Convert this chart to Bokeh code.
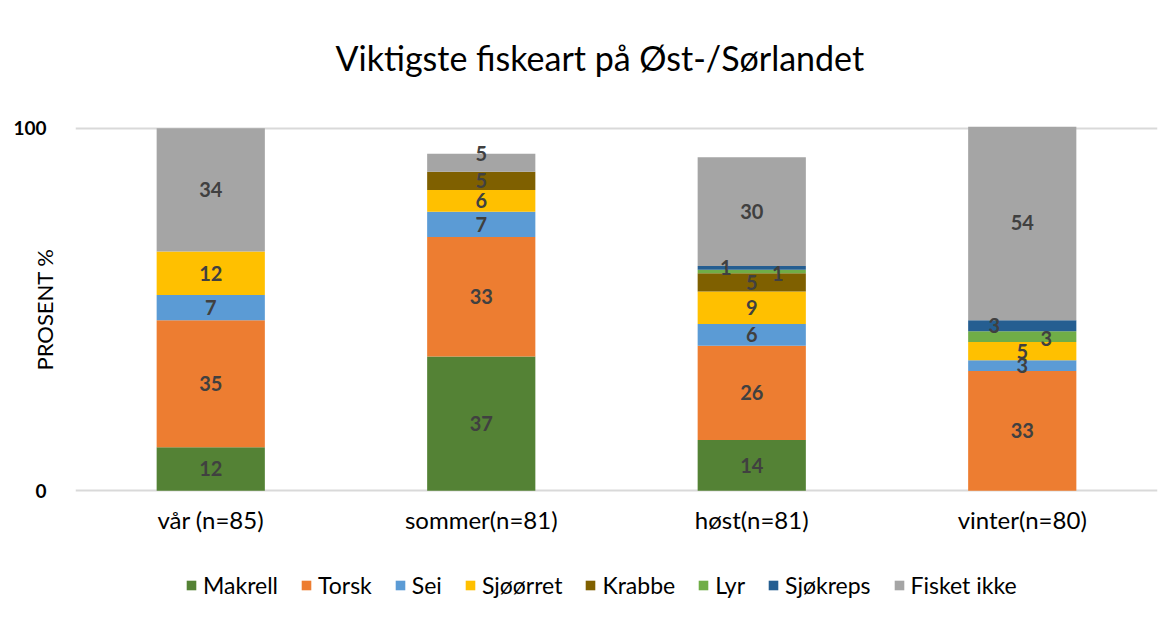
from bokeh.plotting import figure
from bokeh.models import ColumnDataSource, FactorRange, Range1d, Legend, LegendItem, FixedTicker
from bokeh.layouts import column
from bokeh.core.properties import value
from bokeh.embed import file_html
from bokeh.resources import INLINE

# ---- data ----
categories = ["vår (n=85)", "sommer(n=81)", "høst(n=81)", "vinter(n=80)"]
species = ["Makrell", "Torsk", "Sei", "Sjøørret", "Krabbe", "Lyr", "Sjøkreps", "Fisket ikke"]
makrell = [12, 37, 14, 0]
torsk = [35, 33, 26, 33]
sei = [7, 7, 6, 3]
sjoorret = [12, 6, 9, 5]
krabbe = [0, 5, 5, 0]
lyr = [0, 0, 1, 3]
sjokreps = [0, 0, 1, 3]
fisket_ikke = [34, 5, 30, 54]
y_ticks = [0, 100]
title_text = "Viktigste fiskeart på Øst-/Sørlandet"

colors = ["#548235", "#ED7D31", "#5B9BD5", "#FFC000", "#7F6000", "#70AD47", "#255E91", "#A5A5A5"]
series = [makrell, torsk, sei, sjoorret, krabbe, lyr, sjokreps, fisket_ikke]

FONT = "Lato"
W = 1165

label_offsets = {
    ("høst(n=81)", "Sjøkreps"): (-26, 0),
    ("høst(n=81)", "Lyr"): (26, 2),
    ("vinter(n=80)", "Sjøkreps"): (-28, 0),
    ("vinter(n=80)", "Lyr"): (24, 2),
    ("sommer(n=81)", "Fisket ikke"): (0, -9),
}

# ---- title strip ----
pt = figure(width=W, height=84, x_range=Range1d(0, 1), y_range=Range1d(0, 1),
            x_axis_type=None, y_axis_type=None, output_backend="svg", toolbar_location=None,
            min_border_top=82, min_border_bottom=0, min_border_left=75, min_border_right=8)
pt.outline_line_color = None
pt.grid.visible = False
pt.title.text = title_text
pt.title.align = "left"
pt.title.offset = 260
pt.title.text_font = FONT
pt.title.text_font_size = "34px"
pt.title.text_font_style = "normal"
pt.title.text_color = "#000000"
pt.title.standoff = 10

# ---- main chart ----
data = {"cat": categories}
for name, vals in zip(species, series):
    data[name] = vals
source = ColumnDataSource(data)

p = figure(
    x_range=FactorRange(*categories, range_padding=0),
    y_range=Range1d(-0.5, 100.5),
    width=W, height=466,
    output_backend="svg", toolbar_location=None,
    min_border_left=75, min_border_right=8, min_border_top=42, min_border_bottom=58,
)

renderers = p.vbar_stack(species, x="cat", width=0.4, color=colors, line_color=None, source=source)

lx, ly, lt, lxo, lyo = [], [], [], [], []
for i, cat in enumerate(categories):
    base = 0
    for name, vals in zip(species, series):
        v = vals[i]
        if v > 0:
            xo, yo = label_offsets.get((cat, name), (0, 0))
            lx.append(cat)
            ly.append(base + v / 2)
            lt.append(str(v))
            lxo.append(xo)
            lyo.append(yo)
        base += v
lsrc = ColumnDataSource(dict(x=lx, y=ly, t=lt, xo=lxo, yo=lyo))
p.text(x="x", y="y", text="t", x_offset="xo", y_offset="yo", source=lsrc,
       text_align="center", text_baseline="middle", text_font=value(FONT),
       text_font_style="bold", text_font_size="20px", text_color="#404040")

p.outline_line_color = None
p.xgrid.grid_line_color = None
p.ygrid.ticker = FixedTicker(ticks=y_ticks)
p.ygrid.grid_line_color = "#d9d9d9"
p.ygrid.grid_line_width = 2
p.yaxis.ticker = FixedTicker(ticks=y_ticks)
p.yaxis.axis_line_color = None
p.yaxis.major_tick_line_color = None
p.yaxis.minor_tick_line_color = None
p.yaxis.major_label_text_font = FONT
p.yaxis.major_label_text_font_style = "bold"
p.yaxis.major_label_text_font_size = "19px"
p.yaxis.major_label_text_color = "#000000"
p.yaxis.major_label_standoff = 23
p.yaxis.axis_label = "PROSENT %"
p.yaxis.axis_label_text_font = FONT
p.yaxis.axis_label_text_font_style = "normal"
p.yaxis.axis_label_text_font_size = "22px"
p.yaxis.axis_label_text_color = "#000000"
p.yaxis.axis_label_standoff = -48

p.xaxis.axis_line_color = None
p.xaxis.major_tick_line_color = None
p.xaxis.minor_tick_line_color = None
p.xaxis.major_label_text_font = FONT
p.xaxis.major_label_text_font_size = "24px"
p.xaxis.major_label_text_color = "#000000"
p.xaxis.major_label_standoff = 6

# ---- legend strip (zero-height swatch renderers) ----
pl = figure(width=W, height=70, x_range=Range1d(0, 1), y_range=Range1d(0, 1),
            x_axis_type=None, y_axis_type=None, output_backend="svg", toolbar_location=None,
            min_border_top=0, min_border_bottom=0, min_border_left=75, min_border_right=8)
pl.outline_line_color = None
pl.grid.visible = False
leg_renderers = [pl.vbar(x=[0.5], top=[0], bottom=[0], width=0.0, color=c, line_color=None)
                 for c in colors]
legend = Legend(
    items=[LegendItem(label=s, renderers=[r]) for s, r in zip(species, leg_renderers)],
    orientation="horizontal", location=(110, 21),
    label_text_font=FONT, label_text_font_size="23px", label_text_color="#000000",
    glyph_width=12, glyph_height=12, label_standoff=6, spacing=22,
    border_line_color=None, background_fill_alpha=0, margin=0, padding=0,
)
pl.add_layout(legend, "center")

layout = column(pt, p, pl, spacing=0)
open("out.html", "w").write(file_html(layout, INLINE))
